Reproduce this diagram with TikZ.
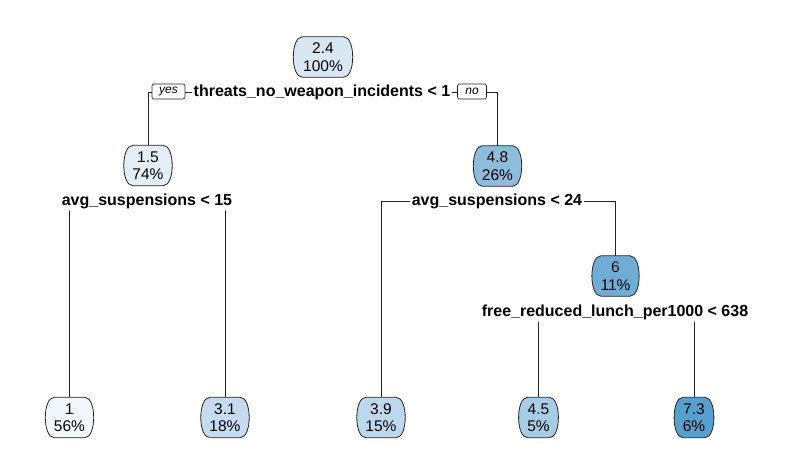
\documentclass[tikz,border=0pt]{standalone}
\usepackage{fontspec}
\setmainfont{Liberation Sans}
\usetikzlibrary{backgrounds,calc}
\definecolor{cA}{HTML}{F2F7FD}
\definecolor{cB}{HTML}{E3EEF9}
\definecolor{cC}{HTML}{D9E7F5}
\definecolor{cD}{HTML}{C6DBEF}
\definecolor{cE}{HTML}{BDD7EE}
\definecolor{cF}{HTML}{A9CCE6}
\definecolor{cG}{HTML}{8DBCDD}
\definecolor{cH}{HTML}{6FADD6}
\definecolor{cI}{HTML}{579FCE}
\definecolor{edgecol}{HTML}{222222}
\begin{document}
\begin{tikzpicture}[x=1pt,y=-1pt,
  tnode/.style={minimum height=40pt, inner xsep=7.5pt, inner ysep=0pt, align=center,
    font=\fontsize{15.5}{17.5}\selectfont},
  splitlab/.style={fill=white, inner xsep=1.5pt, inner ysep=3pt,
    font=\fontsize{16}{16}\selectfont\bfseries},
  yn/.style={draw=edgecol, fill=white, rounded corners=2pt, inner xsep=0pt, inner ysep=0pt,
    minimum height=15pt, line width=0.6pt, font=\fontsize{12}{12}\selectfont\itshape},
  edge/.style={draw=edgecol, line width=0.8pt},
  barrel/.style={draw=edgecol, line width=0.8pt}
]
\useasboundingbox (0,0) rectangle (790,473);

% tree nodes
\node[tnode, minimum width=57pt] (root) at (323,57) {2.4\\100\%};
\node[tnode] (n2) at (148,165.5) {1.5\\74\%};
\node[tnode] (n3) at (497.5,166) {4.8\\26\%};
\node[tnode] (n6) at (615.5,276) {6\\11\%};
\node[tnode] (l1) at (69.5,417.5) {1\\56\%};
\node[tnode] (l2) at (225,417.5) {3.1\\18\%};
\node[tnode] (l3) at (381,417.5) {3.9\\15\%};
\node[tnode] (l4) at (538.5,417.5) {4.5\\5\%};
\node[tnode] (l5) at (694,417.5) {7.3\\6\%};

% split labels
\node[splitlab] (s1) at (322,92) {threats\_no\_weapon\_incidents < 1};
\node[splitlab] (s2) at (147,201) {avg\_suspensions < 15};
\node[splitlab] (s3) at (497,201) {avg\_suspensions < 24};
\node[splitlab] (s6) at (615,312) {free\_reduced\_lunch\_per1000 < 638};

\node[yn, minimum width=33pt] (yes) at (168.5,91.5) {yes};
\node[yn, minimum width=29pt] (no) at (472,91.5) {no};

\begin{scope}[on background layer]
  \draw[edge] (s1.center) -| (n2.north);
  \draw[edge] (s1.center) -| (n3.north);
  \draw[edge] (s2.center) -| (l1.north);
  \draw[edge] (s2.center) -| (l2.north);
  \draw[edge] (s3.center) -| (l3.north);
  \draw[edge] (s3.center) -| (n6.north);
  \draw[edge] (s6.center) -| (l4.north);
  \draw[edge] (s6.center) -| (l5.north);
  \foreach \nd/\c in {root/cC, n2/cB, n3/cG, n6/cH, l1/cA, l2/cD, l3/cE, l4/cF, l5/cI}{
    \path[barrel, fill=\c] let \p1=(\nd.north west), \p2=(\nd.south east) in
      (\x1+8pt,\y1) -- (\x2-8pt,\y1)
      .. controls (\x2+4pt,\y1) and (\x2+4pt,\y2) .. (\x2-8pt,\y2)
      -- (\x1+8pt,\y2)
      .. controls (\x1-4pt,\y2) and (\x1-4pt,\y1) .. (\x1+8pt,\y1) -- cycle;
  }
\end{scope}
\end{tikzpicture}
\end{document}
